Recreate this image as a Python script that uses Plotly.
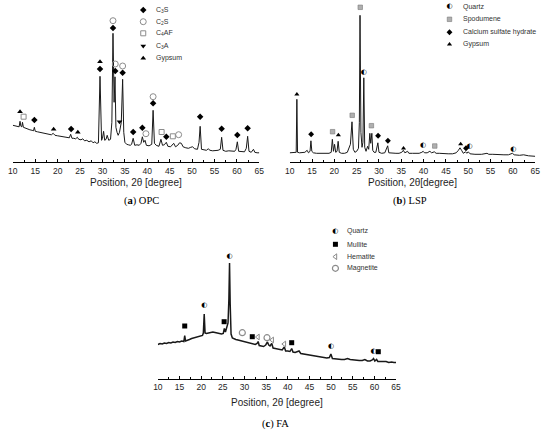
import plotly.graph_objects as go

# XRD patterns of OPC, LSP and FA (intensity in arbitrary units)

OPC_TWO_THETA = [10.0, 10.5, 11.0, 11.4, 11.6, 11.8, 12.0, 12.15, 12.35, 12.8, 13.3, 13.8, 14.3, 14.6, 14.8,
                 15.0, 15.5, 16.0, 16.5, 17.0, 17.5, 18.0, 18.6, 19.0, 19.4, 20.0, 20.5, 21.0, 21.5, 22.0,
                 22.6, 22.9, 23.2, 23.6, 24.0, 24.4, 24.7, 25.2, 25.6, 26.0, 26.5, 27.0, 27.5, 27.9, 28.3,
                 28.7, 29.1, 29.45, 29.8, 30.0, 30.25, 30.5, 30.8, 31.05, 31.4, 31.8, 32.1, 32.35, 32.6,
                 32.8, 33.0, 33.25, 33.5, 33.8, 34.0, 34.2, 34.5, 34.75, 35.0, 35.4, 35.8, 36.2, 36.5,
                 36.85, 37.2, 37.7, 38.2, 38.6, 38.9, 39.2, 39.5, 39.8, 40.4, 41.0, 41.3, 41.6, 42.0, 42.6,
                 43.05, 43.4, 43.8, 44.25, 44.6, 45.2, 45.9, 46.3, 46.8, 47.2, 47.6, 48.0, 48.6, 49.2,
                 49.7, 50.1, 50.6, 51.2, 51.55, 51.8, 52.1, 52.6, 53.2, 53.6, 54.0, 54.6, 55.2, 55.8,
                 56.3, 56.6, 56.9, 57.5, 58.2, 58.8, 59.5, 59.8, 60.1, 60.4, 61.0, 61.7, 62.1, 62.4,
                 62.7, 63.2, 63.7, 64.0, 64.5, 65.0]
OPC_INTENSITY = [37, 36.5, 36, 35.5, 41, 36, 35.5, 40, 35, 34, 33.5, 32.5, 32, 31.5, 35,
                 31, 30.5, 30, 29.5, 29, 28.5, 28, 27.5, 29, 27, 26.5, 26, 26, 25.5, 25,
                 24.5, 28, 24, 24, 23.5, 25, 23, 22.5, 23.5, 21.5, 22, 20.5, 21.5, 19.5, 20.5,
                 19, 19.5, 86, 22, 24, 31, 22, 23, 27, 22, 23, 40, 129, 60,
                 85.5, 35, 30, 27, 30, 34, 40, 83, 30, 20, 18, 17.5, 17, 18,
                 24, 17, 17.5, 17, 19, 25.5, 20, 22, 17, 16.5, 18, 52, 19, 17, 16,
                 23, 17, 17.5, 20, 16, 15.5, 19, 15.5, 17, 19.5, 19, 15.5, 14.5, 14,
                 15, 15.5, 13.5, 13, 20, 36, 13, 12.5, 12, 13.5, 12, 11.5, 11.5, 12,
                 13, 25, 12, 11, 11.5, 11, 11, 13, 20.5, 11, 10.5, 10.5, 14, 26,
                 11, 10, 13, 10, 9.5, 9.5]

LSP_TWO_THETA = [10.0, 10.5, 11.0, 11.45, 11.6, 11.75, 12.2, 12.8, 13.4, 13.9, 14.2, 14.55, 14.75, 14.95,
                 15.3, 16.0, 17.0, 18.0, 18.8, 19.3, 19.55, 19.8, 20.05, 20.3, 20.6, 20.85, 21.1, 21.6,
                 22.3, 22.9, 23.3, 23.6, 23.95, 24.25, 24.6, 25.0, 25.4, 25.6, 25.75, 25.95, 26.2, 26.4,
                 26.6, 26.8, 27.1, 27.45, 27.7, 27.95, 28.15, 28.4, 28.6, 28.9, 29.3, 29.75, 30.0, 30.6,
                 31.3, 31.95, 32.2, 33.0, 33.8, 34.5, 35.1, 35.45, 35.8, 36.4, 36.7, 37.5, 38.3, 39.0,
                 39.6, 39.9, 40.2, 40.8, 41.4, 41.8, 42.4, 42.8, 43.5, 44.5, 45.5, 46.5, 47.3, 47.8,
                 48.15, 48.5, 48.9, 49.4, 49.7, 50.0, 50.4, 51.5, 53.0, 54.2, 54.6, 55.5, 56.8, 58.0,
                 59.0, 59.9, 60.3, 61.5, 62.4, 63.5, 65.0]
LSP_INTENSITY = [9.5, 9.5, 9.5, 10, 63, 10, 9.5, 9.5, 10, 12, 9.5, 11, 21.5, 11,
                 9.5, 9, 9, 9, 9, 10, 23, 11, 18, 10, 11, 21, 10, 9,
                 9, 10, 15, 18, 40.5, 13, 10, 11, 14, 40, 147, 30, 15, 20,
                 84.5, 15, 11, 16, 13, 29, 19, 29, 12, 10, 10, 19.5, 10, 9,
                 9.5, 16.5, 9.5, 9, 9, 9, 10, 12, 9.5, 11, 9, 9, 9, 9,
                 10, 11, 9.5, 9.5, 11, 9.5, 10.5, 9, 9, 8.5, 8.5, 8.5, 9.5, 12,
                 14.5, 12, 9, 10.5, 9, 10.5, 8.5, 8, 8, 9, 8, 8, 7.5, 7.5,
                 7.5, 9, 7.5, 7, 7.5, 6.5, 6]

FA_TWO_THETA = [10.0, 10.5, 11.0, 11.5, 12.0, 12.5, 13.0, 13.5, 14.0, 14.5, 15.0, 15.5, 16.0, 16.2, 16.4,
                16.8, 17.3, 17.8, 18.3, 18.8, 19.3, 19.8, 20.3, 20.5, 20.7, 20.9, 21.2, 21.7, 22.2, 22.7,
                23.2, 23.7, 24.2, 24.7, 25.1, 25.35, 25.6, 25.9, 26.2, 26.4, 26.55, 26.7, 26.9, 27.2,
                27.6, 28.0, 28.5, 29.0, 29.5, 30.0, 30.5, 31.0, 31.5, 32.0, 32.5, 32.9, 33.15, 33.4,
                33.9, 34.4, 34.9, 35.3, 35.6, 35.9, 36.3, 36.6, 37.1, 37.6, 38.1, 38.7, 39.2, 39.5,
                40.0, 40.5, 40.9, 41.2, 41.7, 42.3, 42.6, 43.0, 43.6, 44.2, 44.8, 45.4, 46.0, 46.6,
                47.2, 47.8, 48.4, 49.0, 49.6, 49.95, 50.3, 51.0, 51.7, 52.4, 53.1, 53.8, 54.4, 55.1,
                55.8, 56.5, 57.2, 57.8, 58.4, 59.0, 59.5, 59.8, 60.1, 60.5, 60.8, 61.4, 62.0, 62.7,
                63.3, 64.0, 64.5, 65.0]
FA_INTENSITY = [34.5, 35.5, 35, 36, 35.5, 36.5, 36, 37, 36.5, 37.5, 37, 38, 37.5, 43.5, 38,
                39, 39.5, 40.5, 41, 42, 42.5, 43, 43.5, 46, 65, 46, 45.5, 46, 46.5, 47,
                46.5, 46, 45.5, 45, 45.5, 50.5, 47, 51, 56, 80, 116, 75, 45, 41,
                40, 39.5, 39, 38.5, 38, 37.5, 37, 36.5, 36, 35.5, 34.5, 35.5, 37.5, 33.5,
                33, 32.5, 34, 37, 34, 33, 35.5, 31, 30.5, 30, 29.5, 29, 32, 28,
                28, 27.5, 30.5, 27, 26.5, 27, 28, 25.5, 25, 24.5, 24, 23.5, 23, 22.5,
                22, 22, 21.5, 21, 21.5, 25, 20.5, 20, 20, 19.5, 19.5, 20.5, 19.5, 19,
                18.5, 18.5, 18.5, 19.5, 18, 18, 19, 20.5, 18, 19.5, 17.5, 17.5, 17, 17.5,
                16.5, 17, 16.5, 16.5]

# phase markers: (2theta, height)
OPC_C3S_X = [14.8, 23.0, 29.45, 32.35, 32.85, 34.5, 36.85, 38.9, 41.3, 44.25, 51.8, 56.6, 60.1, 62.4]
OPC_C3S_Y = [42.3, 33.3, 93.3, 134.3, 91.3, 89.6, 30.3, 34.6, 59, 25.6, 45.6, 33.6, 27.3, 34]
OPC_C2S_X = [32.35, 32.85, 34.5, 39.7, 41.3, 47.0]
OPC_C2S_Y = [141.6, 98.3, 96.3, 28.6, 65.6, 27.6]
OPC_C4AF_X = [12.4, 43.2, 45.7]
OPC_C4AF_Y = [45.6, 30.3, 26]
OPC_C3A_X = [33.8]
OPC_C3A_Y = [40.6]
OPC_GYP_X = [11.6, 19.1, 24.5, 29.45]
OPC_GYP_Y = [50.6, 33, 30, 100.6]

LSP_QTZ_X = [26.6, 39.9, 50.3, 60.1]
LSP_QTZ_Y = [89.6, 16.6, 16.3, 13.3]
LSP_SPO_X = [19.6, 24.0, 25.8, 28.3, 42.5]
LSP_SPO_Y = [30.6, 47, 155, 36.6, 16.3]
LSP_CSH_X = [14.8, 29.8, 32.0, 49.5]
LSP_CSH_Y = [28, 26.6, 21.6, 14]
LSP_GYP_X = [11.6, 20.9, 35.5, 48.3]
LSP_GYP_Y = [68, 27.3, 14, 18.3]

FA_QTZ_X = [20.7, 26.55, 50.0, 59.8]
FA_QTZ_Y = [74, 122.3, 32.3, 28]
FA_MUL_X = [16.2, 25.3, 31.8, 40.9, 60.9]
FA_MUL_Y = [53, 57.3, 42.3, 36.3, 27.3]
FA_HEM_X = [33.1, 36.4, 39.2]
FA_HEM_Y = [42, 39, 35]
FA_MAG_X = [29.5, 35.2]
FA_MAG_Y = [46.3, 41.3]

TICK_VALS = [10, 15, 20, 25, 30, 35, 40, 45, 50, 55, 60, 65]

SANS = 'Liberation Sans, Arial, sans-serif'
SERIF = 'Liberation Serif, Times New Roman, serif'
GRAY = 'rgb(140,140,140)'

fig = go.Figure()


def add_curve(x, y, n, width):
    fig.add_trace(go.Scatter(x=x, y=y, mode='lines', line=dict(color='rgb(25,25,25)', width=width),
                             xaxis='x' + n, yaxis='y' + n, showlegend=False, hoverinfo='skip'))


def add_marks(x, y, n, symbol, size, color, line_color=None, line_width=0):
    fig.add_trace(go.Scatter(x=x, y=y, mode='markers', cliponaxis=False,
                             marker=dict(symbol=symbol, size=size, color=color,
                                         line=dict(color=line_color or color, width=line_width)),
                             xaxis='x' + n, yaxis='y' + n, showlegend=False, hoverinfo='skip'))


def add_half_circle(x, y, n, size):
    # quartz symbol (half filled circle) as a text glyph
    fig.add_trace(go.Scatter(x=x, y=y, mode='text', text=['\u25d0'] * len(x), cliponaxis=False,
                             textfont=dict(family='DejaVu Sans', size=size, color='black'),
                             xaxis='x' + n, yaxis='y' + n, showlegend=False, hoverinfo='skip'))


def add_key(n, x_txt, ys, labels):
    for yy, lab in zip(ys, labels):
        fig.add_annotation(x=x_txt, y=yy, xref='x' + n, yref='y' + n, text=lab, showarrow=False,
                           xanchor='left', yanchor='middle',
                           font=dict(family=SANS, size=7, color='rgb(50,50,50)'))


# (a) OPC
add_curve(OPC_TWO_THETA, OPC_INTENSITY, '', 1)
add_marks(OPC_C3S_X + [39.1], OPC_C3S_Y + [152.3], '', 'diamond', 5, 'black')
add_marks(OPC_C2S_X + [39.1], OPC_C2S_Y + [140.6], '', 'circle-open', 6, GRAY, GRAY, 1)
add_marks(OPC_C4AF_X + [39.1], OPC_C4AF_Y + [129.0], '', 'square-open', 5, GRAY, GRAY, 1)
add_marks(OPC_C3A_X + [39.1], OPC_C3A_Y + [116.3], '', 'triangle-down', 5, 'black')
add_marks(OPC_GYP_X + [39.1], OPC_GYP_Y + [104.0], '', 'triangle-up', 5, 'black')
add_key('', 41.6, [152.3, 140.6, 129.0, 116.3, 104.0],
        ['C<sub>3</sub>S', 'C<sub>2</sub>S', 'C<sub>4</sub>AF', 'C<sub>3</sub>A', 'Gypsum'])

# (b) LSP
add_curve(LSP_TWO_THETA, LSP_INTENSITY, '2', 1)
add_half_circle(LSP_QTZ_X + [45.8], LSP_QTZ_Y + [155.6], '2', 7)
add_marks(LSP_SPO_X + [45.8], LSP_SPO_Y + [143.0], '2', 'square', 4.5, 'rgb(175,175,175)', 'rgb(120,120,120)', 0.6)
add_marks(LSP_CSH_X + [45.8], LSP_CSH_Y + [130.0], '2', 'diamond', 4.5, 'black')
add_marks(LSP_GYP_X + [45.8], LSP_GYP_Y + [118.0], '2', 'triangle-up', 4.5, 'black')
add_key('2', 48.4, [155.6, 143.0, 130.0, 118.0],
        ['Quartz', 'Spodumene', 'Calcium sulfate hydrate', 'Gypsum'])

# (c) FA
add_curve(FA_TWO_THETA, FA_INTENSITY, '3', 1.5)
add_half_circle(FA_QTZ_X + [51.0], FA_QTZ_Y + [148.0], '3', 7)
add_marks(FA_MUL_X + [51.0], FA_MUL_Y + [134.7], '3', 'square', 5, 'black')
add_marks(FA_HEM_X + [51.0], FA_HEM_Y + [122.3], '3', 'triangle-left-open', 5, GRAY, GRAY, 1)
add_marks(FA_MAG_X + [51.0], FA_MAG_Y + [110.7], '3', 'circle-open', 6, GRAY, GRAY, 1.2)
add_key('3', 53.2, [148.0, 134.7, 122.3, 110.7],
        ['Quartz', 'Mullite', 'Hematite', 'Magnetite'])


def x_axis(domain, anchor):
    return dict(domain=domain, anchor=anchor, range=[10, 65], tickvals=TICK_VALS,
                showline=True, linecolor='black', linewidth=1, ticks='inside', ticklen=3,
                tickcolor='black', tickwidth=1,
                minor=dict(tickvals=[12.5 + 5 * i for i in range(11)], ticklen=2, ticks='inside',
                           tickcolor='black'),
                showgrid=False, zeroline=False, fixedrange=True,
                tickfont=dict(family=SANS, size=8.5, color='rgb(30,30,30)'))


def y_axis(domain, anchor, top):
    return dict(domain=domain, anchor=anchor, range=[0, top], visible=False, fixedrange=True)


fig.update_layout(
    width=550, height=434,
    margin=dict(l=0, r=0, t=0, b=0),
    paper_bgcolor='white', plot_bgcolor='white',
    xaxis=x_axis([8 / 550, 259 / 550], 'y'),
    yaxis=y_axis([1 - 162.3 / 434, 1], 'x', 162.3),
    xaxis2=x_axis([290 / 550, 540 / 550], 'y2'),
    yaxis2=y_axis([1 - 162.3 / 434, 1], 'x2', 162.3),
    xaxis3=x_axis([155.7 / 550, 398.3 / 550], 'y3'),
    yaxis3=y_axis([1 - 379 / 434, 1 - 215 / 434], 'x3', 164),
)

# axis titles and captions
for xc, yc, txt in [(133.5, 182.7, 'Position, 2\u03b8 [degree]'),
                    (415.0, 182.7, 'Position, 2\u03b8[degree]'),
                    (276.7, 402.7, 'Position, 2\u03b8 [degree]')]:
    fig.add_annotation(x=xc / 550, y=1 - yc / 434, xref='paper', yref='paper', text=txt, showarrow=False,
                       xanchor='center', yanchor='middle', font=dict(family=SANS, size=10, color='rgb(30,30,30)'))

for xc, yc, txt in [(139, 201, '(<b>a</b>) OPC'), (412.5, 201, '(<b>b</b>) LSP'), (275.5, 424.3, '(<b>c</b>) FA')]:
    fig.add_annotation(x=xc / 550, y=1 - yc / 434, xref='paper', yref='paper', text=txt, showarrow=False,
                       xanchor='center', yanchor='middle', font=dict(family=SERIF, size=10.5, color='black'))

# drop the default body margin so the 550x434 figure fills the window
fig.write_html('out.html', config={'displayModeBar': False},
               post_script="document.body.style.margin='0';")
